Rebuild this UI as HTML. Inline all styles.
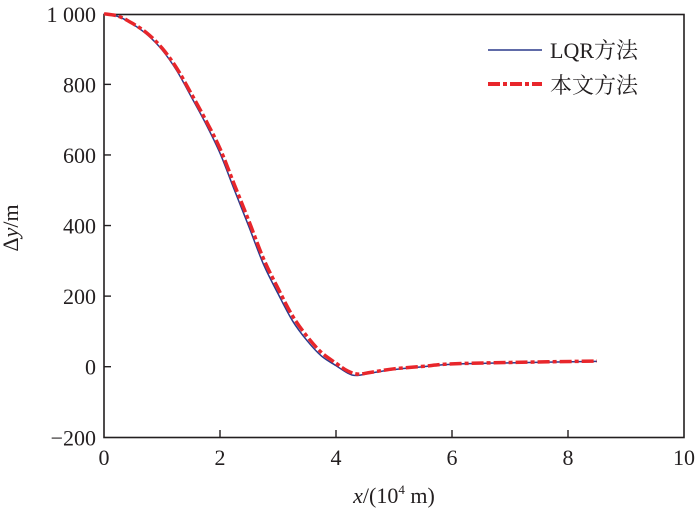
<!DOCTYPE html>
<html><head><meta charset="utf-8"><style>
body{margin:0;background:#fff;}
svg text{font-family:"Liberation Serif","Noto Serif CJK SC",serif;fill:#231f20;}
</style></head><body>
<svg width="700" height="511" viewBox="0 0 700 511" id="c">
<rect x="104" y="14.5" width="580" height="423" fill="none" stroke="#231f20" stroke-width="1.6"/>
<g id="ticks"></g>
<g id="series"></g>
<text x="18" y="228" font-size="22" transform="rotate(-90 18 228)" text-anchor="middle">Δ<tspan font-style="italic">y</tspan>/m</text>
<text x="394" y="503" font-size="22" text-anchor="middle"><tspan font-style="italic">x</tspan>/(10<tspan font-size="13" dy="-9">4</tspan><tspan dy="9"> m)</tspan></text>
<g>
<line x1="488" y1="50" x2="542" y2="50" stroke="#2b3a8c" stroke-width="1.5"/>
<text x="550" y="58" font-size="22">LQR方法</text>
<line x1="488" y1="84" x2="542" y2="84" stroke="#e8262b" stroke-width="4" stroke-dasharray="12,3,4,3"/>
<text x="550" y="93" font-size="22">本文方法</text>
</g>
</svg>
<script>
const xTicks=[0,2,4,6,8,10];
const yTicks=[-200,0,200,400,600,800,1000];
const yTickLabels=["\u2212200","0","200","400","600","800","1 000"];
const lqrX=[0,0.25,0.5,0.75,1,1.25,1.5,1.75,2,2.25,2.5,2.75,3,3.25,3.5,3.75,4,4.2,4.35,4.6,5,5.5,6,7,8.5];
const lqrY=[1000,992,970,940,898,840,766,690,605,500,396,290,207,130,74,30,3,-18,-25,-18,-8,0,7,11,15];
const oursX=[0,0.25,0.5,0.75,1,1.25,1.5,1.75,2,2.25,2.5,2.75,3,3.25,3.5,3.75,4,4.2,4.38,4.6,5,5.5,6,7,8.5];
const oursY=[1000,993,972,944,903,847,775,700,618,515,412,306,222,144,86,40,10,-12,-21,-16,-6,1,8,12,16];
const sx=v=>104+v*58, sy=v=>366.7-v*0.3529*1.0;
const NS="http://www.w3.org/2000/svg";
const tg=document.getElementById('ticks');
function mk(tag,attrs,parent){const e=document.createElementNS(NS,tag);for(const k in attrs)e.setAttribute(k,attrs[k]);parent.appendChild(e);return e;}
xTicks.forEach(t=>{
 if(t>0&&t<10){const l=mk('line',{x1:sx(t),x2:sx(t),y1:437.5,y2:430,stroke:'#231f20','stroke-width':1.4},tg);
 
 }
 const tx=mk('text',{x:sx(t),y:465,'font-size':22,'text-anchor':'middle'},tg);tx.textContent=t;
 
 
});
yTicks.forEach((t,i)=>{
 const y=sy(t)*1;
 if(t>-200&&t<1000){const l=mk('line',{x1:104,x2:111,y1:y,y2:y,stroke:'#231f20','stroke-width':1.4},tg);
 
 }
 const tx=mk('text',{x:96,y:y+8,'font-size':22,'text-anchor':'end'},tg);tx.textContent=yTickLabels[i];
 
 
});
function pathD(xs,ys){const p=xs.map((x,i)=>[sx(x),sy(ys[i])]);let d=`M${p[0][0]},${p[0][1]}`;
 for(let i=0;i<p.length-1;i++){const p0=p[i-1]||p[i],p1=p[i],p2=p[i+1],p3=p[i+2]||p2;
 d+=` C${p1[0]+(p2[0]-p0[0])/6},${p1[1]+(p2[1]-p0[1])/6} ${p2[0]-(p3[0]-p1[0])/6},${p2[1]-(p3[1]-p1[1])/6} ${p2[0]},${p2[1]}`;}return d;}
const sg=document.getElementById('series');
const a=mk('path',{d:pathD(lqrX,lqrY),fill:'none',stroke:'#2b3a8c','stroke-width':1.5},sg);


const b=mk('path',{d:pathD(oursX,oursY),fill:'none',stroke:'#e8262b','stroke-width':3.5,'stroke-dasharray':'12,3,4,3'},sg);


</script>
</body></html>
